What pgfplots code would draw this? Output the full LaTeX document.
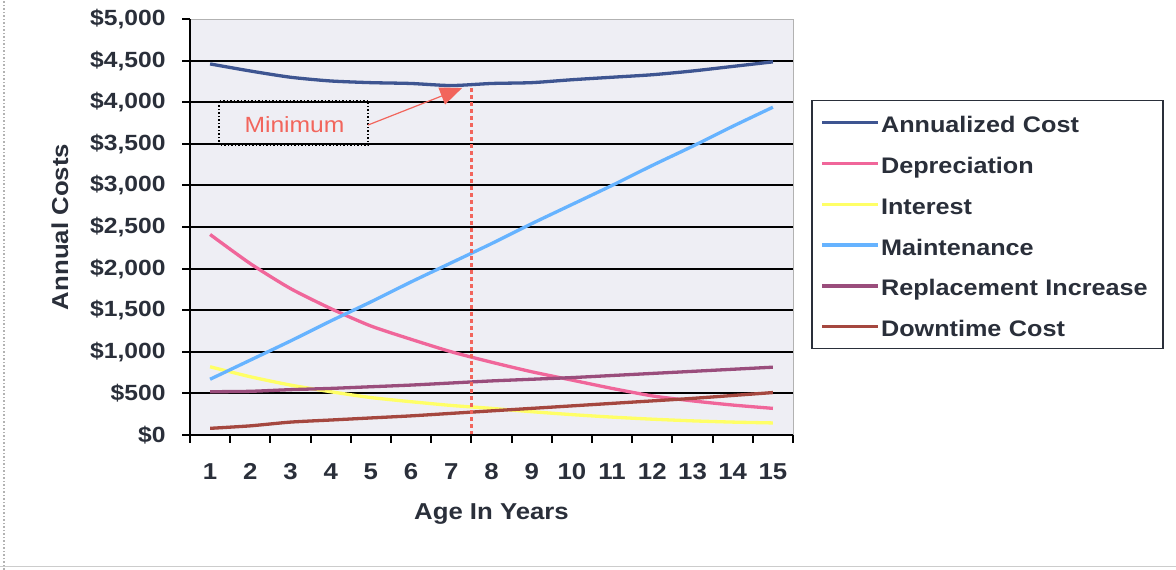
\documentclass[border=0pt]{standalone}
\usepackage{pgfplots}
\pgfplotsset{compat=1.18}
\usepackage{fontspec}
\setmainfont{Liberation Sans}[FakeStretch=1.12]
\usetikzlibrary{arrows.meta}

\definecolor{txt}{HTML}{2A2F3A}
\definecolor{plotbg}{HTML}{EEEEF4}
\definecolor{annual}{HTML}{3E5591}
\definecolor{depr}{HTML}{F0669A}
\definecolor{inter}{HTML}{FFFF66}
\definecolor{maint}{HTML}{66B3FF}
\definecolor{repl}{HTML}{9A4D7C}
\definecolor{down}{HTML}{A5473F}
\definecolor{minred}{HTML}{F2655C}

\newcommand\tickfont{\fontsize{22pt}{26pt}\selectfont\bfseries}
\newcommand\xtickfont{\fontsize{23pt}{27pt}\selectfont\bfseries}
\newcommand\labfont{\fontsize{23pt}{27pt}\selectfont\bfseries}

\begin{document}
\begin{tikzpicture}[x=1pt,y=1pt]
\useasboundingbox (0,0) rectangle (1176,570);
\fill[white] (0,0) rectangle (1176,570);
\draw[gray!60, dotted, line width=1.5pt] (4,0) -- (4,570);
\draw[gray!40, line width=1pt] (0,3) -- (1176,3);

\begin{axis}[
  at={(190pt,135pt)}, anchor=south west,
  scale only axis, width=603pt, height=416pt,
  xmin=0.5, xmax=15.5, ymin=0, ymax=5000,
  clip=false,
  axis background/.style={fill=plotbg},
  axis line style={gray!60, line width=1pt},
  xtick={1,...,15},
  xticklabels={1,2,3,4,5,6,7,8,9,10,11,12,13,14,15},
  minor xtick={0.5,1.5,...,15.5},
  major x tick style={draw=none},
  xtick pos=bottom, ytick pos=left,
  ytick={0,500,...,4500},
  yticklabels={\$0,\$500,\$1{,}000,\$1{,}500,\$2{,}000,\$2{,}500,\$3{,}000,\$3{,}500,\$4{,}000,\$4{,}500},
  extra y ticks={5000},
  extra y tick labels={\$5{,}000},
  extra y tick style={grid=none},
  ymajorgrids,
  grid style={black, line width=2pt},
  tick align=outside,
  major tick length=8pt, minor tick length=8pt,
  tick style={black, line width=2pt},
  ticklabel style={text=txt},
  yticklabel style={font=\tickfont, xshift=-13pt},
  xticklabel style={font=\xtickfont, yshift=-17pt},
  xlabel={Age In Years}, ylabel={Annual Costs},
  label style={font=\labfont, text=txt},
  xlabel style={at={(axis description cs:0.5,-0.19)}, anchor=center},
  ylabel style={at={(axis description cs:-0.2156,0.5)}, anchor=center, rotate=0},
  legend cell align=left,
  legend image code/.code={\draw[#1] (0pt,0pt) -- (56pt,0pt);},
  legend style={at={(1.0299,0.8053)}, anchor=north west,
    draw=txt, line width=1.5pt, fill=white,
    font=\fontsize{22.5pt}{26pt}\selectfont\bfseries, text=txt,
    nodes={inner sep=1pt, text height=21pt, text depth=1pt},
    /tikz/every even column/.append style={nodes={text width=272pt}},
    row sep=16.8pt, inner xsep=9pt, inner ysep=10pt},
  every axis plot/.append style={line width=3.3pt, smooth, tension=0.4},
]
\addplot[annual] coordinates {(1,4460)(2,4375)(3,4300)(4,4255)(5,4235)(6,4225)(7,4200)(8,4225)(9,4235)(10,4270)(11,4300)(12,4330)(13,4375)(14,4430)(15,4485)};
\addlegendentry{Annualized Cost}
\addplot[depr] coordinates {(1,2410)(2,2060)(3,1760)(4,1520)(5,1310)(6,1150)(7,1000)(8,875)(9,760)(10,660)(11,560)(12,470)(13,410)(14,360)(15,320)};
\addlegendentry{Depreciation}
\addplot[inter] coordinates {(1,820)(2,700)(3,600)(4,520)(5,450)(6,400)(7,355)(8,320)(9,280)(10,245)(11,215)(12,190)(13,170)(14,155)(15,145)};
\addlegendentry{Interest}
\addplot[maint] coordinates {(1,670)(2,900)(3,1130)(4,1370)(5,1600)(6,1840)(7,2070)(8,2300)(9,2540)(10,2770)(11,3000)(12,3240)(13,3470)(14,3710)(15,3940)};
\addlegendentry{Maintenance}
\addplot[repl] coordinates {(1,520)(2,525)(3,545)(4,560)(5,580)(6,600)(7,625)(8,650)(9,670)(10,690)(11,715)(12,740)(13,765)(14,790)(15,815)};
\addlegendentry{Replacement Increase}
\addplot[down] coordinates {(1,80)(2,110)(3,155)(4,180)(5,205)(6,230)(7,260)(8,290)(9,320)(10,350)(11,380)(12,410)(13,440)(14,475)(15,510)};
\addlegendentry{Downtime Cost}

% minimum marker
\draw[minred, line width=3pt, dash pattern=on 4pt off 3pt] (axis cs:7.5,0) -- (axis cs:7.5,4205);
\draw[black, dotted, line width=1.5pt] (axis cs:1.22,3480) rectangle (axis cs:4.93,4020);
\node[minred, font=\fontsize{22pt}{26pt}\selectfont] at (axis cs:3.1,3726) {Minimum};
\draw[minred, line width=1.2pt, -{Triangle[length=22pt,width=18pt]}] (axis cs:4.93,3726) -- (axis cs:7.27,4171);

% left and bottom axis lines
\draw[black, line width=2.5pt] (rel axis cs:0,1) -- (rel axis cs:0,0) -- (rel axis cs:1,0);
\end{axis}
\end{tikzpicture}
\end{document}
